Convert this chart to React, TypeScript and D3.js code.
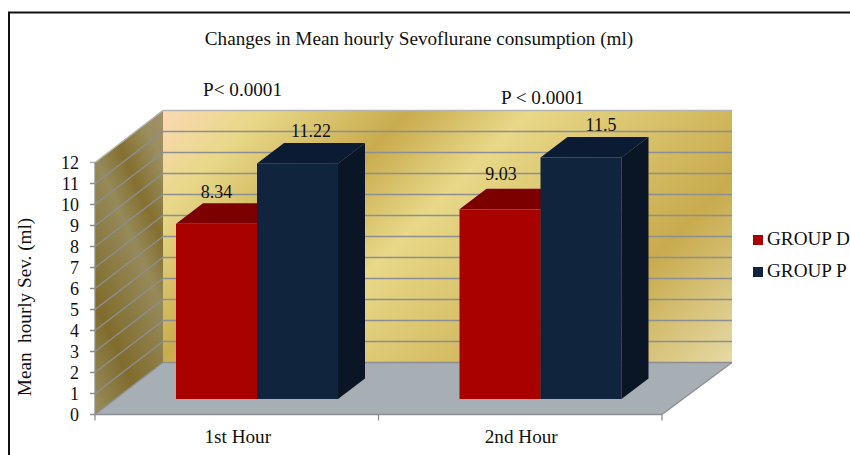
import React from "react";
import * as d3 from "d3";

const categories = ["1st Hour", "2nd Hour"];
const seriesNames = ["GROUP D", "GROUP P"];
const groupD = [8.34, 9.03];
const groupP = [11.22, 11.5];
const labelsD = ["8.34", "9.03"];
const labelsP = ["11.22", "11.5"];
const yTicks = d3.range(0, 13);
const colors = { D: ["#a90000", "#7d0000", "#5e0000"], P: ["#11243d", "#0b1b33", "#0a1526"] };
const wallStops: [string, string][] = [["0%", "#fdd8b8"], ["13%", "#e8d888"], ["30.5%", "#c8ab4e"], ["44.6%", "#e8d888"], ["77%", "#c8ab4e"], ["100%", "#e7dcaa"]];
const sideStops: [string, string][] = [["0%", "#a08f68"], ["12%", "#9a8e5e"], ["29%", "#84702f"], ["43%", "#968a5a"], ["75%", "#806c2c"], ["97%", "#968a5a"]];

const FONT = "'Liberation Serif', serif";
const X0 = 95, X1 = 662, Y0 = 414.5, Y12 = 162.5;
const DX = 68, DY = -52, WALL_EXTRA = 2;
const BAR_SHIFT = 20.25, BAR_BASE = 399, BAR_DX = 27, BAR_DY = -20.5;
const GRID = "#8c8e92";
const FS = 19.2;

export default function App() {
  const y = d3.scaleLinear().domain([0, 12]).range([Y0, Y12]);
  const x = d3.scaleBand<string>().domain(categories).range([X0, X1]);
  const inner = d3.scaleBand<string>().domain(seriesNames).range([0, x.bandwidth()]).paddingOuter(0.75).paddingInner(0);
  const h = (v: number) => y(0) - y(v);
  const poly = (pts: number[][]) => pts.map((p) => p.join(",")).join(" ");
  const wallR = X1 + DX + WALL_EXTRA;

  const bar = (xl: number, w: number, v: number, c: string[], key: string) => {
    const top = BAR_BASE - h(v);
    return (
      <g key={key}>
        <polygon points={poly([[xl, top], [xl + BAR_DX, top + BAR_DY], [xl + w + BAR_DX, top + BAR_DY], [xl + w, top]])} fill={c[1]} />
        <polygon points={poly([[xl + w, top], [xl + w + BAR_DX, top + BAR_DY], [xl + w + BAR_DX, BAR_BASE + BAR_DY], [xl + w, BAR_BASE]])} fill={c[2]} />
        <rect x={xl} y={top} width={w} height={h(v)} fill={c[0]} />
      </g>
    );
  };

  const offD = [[0, -26], [1, -29]];
  const offP = [[13.5, -26], [20, -26.5]];

  return (
    <svg width={850} height={455} style={{ position: "absolute", left: 0, top: 0, background: "#fff" }} fontFamily={FONT} fill="#111">
      <defs>
        <linearGradient id="wall" gradientUnits="userSpaceOnUse" x1={160} y1={105} x2={580} y2={525}>
          {wallStops.map(([o, c]) => <stop key={o} offset={o} stopColor={c} />)}
        </linearGradient>
        <linearGradient id="side" gradientUnits="userSpaceOnUse" x1={163} y1={112} x2={-6.6} y2={188.3}>
          {sideStops.map(([o, c]) => <stop key={o} offset={o} stopColor={c} />)}
        </linearGradient>
      </defs>
      <path d="M850,12.5H9V455" fill="none" stroke="#111" strokeWidth={2} />

      <polygon points={poly([[X0, y(0)], [X0 + DX, y(0) + DY], [X0 + DX, y(12) + DY], [X0, y(12)]])} fill="url(#side)" />
      <rect x={X0 + DX} y={y(12) + DY} width={wallR - X0 - DX} height={y(0) - y(12)} fill="url(#wall)" />
      <polygon points={poly([[X0, y(0)], [X0 + DX, y(0) + DY], [wallR, y(0) + DY], [X1, y(0)]])} fill="#a7aeb4" />

      {yTicks.map((t) => (
        <polyline key={t} points={poly([[X0 - 5, y(t)], [X0, y(t)], [X0 + DX, y(t) + DY], [wallR, y(t) + DY]])} stroke={t === 12 ? "#b4b4b4" : GRID} strokeWidth={1.3} fill="none" />
      ))}
      <line x1={X0} x2={X1} y1={y(0)} y2={y(0)} stroke={GRID} strokeWidth={1.3} />
      <line x1={X1} x2={wallR} y1={y(0)} y2={y(0) + DY} stroke={GRID} strokeWidth={1.3} />
      <line x1={X0} x2={X0} y1={y(0)} y2={y(12)} stroke={GRID} strokeWidth={1.3} />
      {[X0, (X0 + X1) / 2, X1].map((t) => <line key={t} x1={t} x2={t} y1={y(0)} y2={y(0) + 6} stroke={GRID} strokeWidth={1.3} />)}

      {categories.map((c, i) => {
        const bx = x(c)!;
        const w = inner.bandwidth();
        const xd = bx + inner(seriesNames[0])! + BAR_SHIFT;
        const xp = bx + inner(seriesNames[1])! + BAR_SHIFT;
        return (
          <g key={c}>
            {bar(xd, w, groupD[i], colors.D, "d")}
            {bar(xp, w, groupP[i], colors.P, "p")}
            <text x={bx + x.bandwidth() / 2 + 1} y={443} fontSize={FS} textAnchor="middle">{c}</text>
            <text x={xd + w / 2 + offD[i][0]} y={BAR_BASE - h(groupD[i]) + offD[i][1]} fontSize={18} textAnchor="middle">{labelsD[i]}</text>
            <text x={xp + w / 2 + offP[i][0]} y={BAR_BASE - h(groupP[i]) + offP[i][1]} fontSize={18} textAnchor="middle">{labelsP[i]}</text>
          </g>
        );
      })}

      {yTicks.map((t) => <text key={t} x={79} y={y(t) + 6} fontSize={18} textAnchor="end">{t}</text>)}

      <text x={419} y={45} fontSize={FS} textAnchor="middle">Changes in Mean hourly Sevoflurane consumption (ml)</text>
      <text x={203} y={96} fontSize={FS}>P&lt; 0.0001</text>
      <text x={501} y={104} fontSize={FS}>P &lt; 0.0001</text>
      <text transform="translate(31,307) rotate(-90)" fontSize={FS} textAnchor="middle" xmlSpace="preserve">Mean  hourly Sev. (ml)</text>

      <rect x={753} y={235} width={10} height={10} fill={colors.D[0]} />
      <rect x={753} y={267} width={10} height={10} fill={colors.P[0]} />
      <text x={767} y={245} fontSize={FS}>{seriesNames[0]}</text>
      <text x={767} y={277} fontSize={FS}>{seriesNames[1]}</text>
    </svg>
  );
}
